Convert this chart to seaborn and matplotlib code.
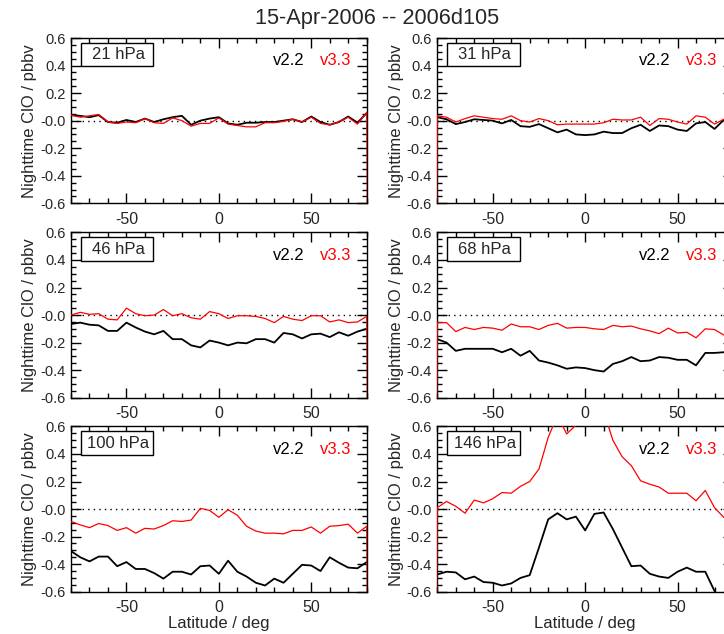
import numpy as np
import pandas as pd
import matplotlib
matplotlib.use("Agg")
import matplotlib.pyplot as plt
from matplotlib.ticker import MultipleLocator, FixedLocator
from matplotlib.patches import Rectangle
import seaborn as sns

# ---------------- data ----------------
title = "15-Apr-2006 -- 2006d105"
lat = [-80, -75, -70, -65, -60, -55, -50, -45, -40, -35, -30, -25, -20, -15, -10, -5,
       0, 5, 10, 15, 20, 25, 30, 35, 40, 45, 50, 55, 60, 65, 70, 75, 80]
fill_value = -9.99   # missing-value flag that v3.3 carries at the edge latitude
fill_lat_left = 85
fill_lat_right = -85

levels = ["21 hPa", "31 hPa", "46 hPa", "68 hPa", "100 hPa", "146 hPa"]

v22_21 = [0.04, 0.035, 0.025, 0.04, -0.01, -0.015, 0.005, -0.01, 0.015, -0.01, 0.01, 0.025,
          0.035, -0.03, 0.0, 0.015, 0.025, -0.02, -0.03, -0.015, -0.015, -0.01, -0.01, 0.0,
          0.01, -0.01, 0.03, -0.01, -0.03, -0.01, 0.03, -0.015, 0.055]
v33_21 = [0.04, 0.025, 0.035, 0.045, -0.01, -0.02, -0.01, -0.015, 0.015, -0.015, -0.02, 0.02,
          0.0, -0.04, -0.02, -0.02, 0.02, -0.025, -0.035, -0.045, -0.045, -0.015, -0.015, -0.005,
          0.01, -0.01, 0.025, -0.02, -0.03, -0.01, 0.025, -0.025, 0.06]

v22_31 = [0.025, 0.01, -0.025, -0.01, 0.01, 0.005, 0.0, -0.02, 0.005, -0.04, -0.045, -0.025,
          -0.055, -0.085, -0.065, -0.1, -0.105, -0.1, -0.08, -0.09, -0.09, -0.055, -0.03, -0.075,
          -0.035, -0.04, -0.065, -0.075, -0.02, -0.01, -0.06, 0.005, -0.02]
v33_31 = [0.035, 0.025, -0.01, 0.015, 0.035, 0.025, 0.015, 0.01, 0.035, 0.0, -0.01, 0.015,
          0.0, -0.03, -0.025, -0.025, -0.025, -0.025, -0.015, 0.01, 0.005, 0.005, 0.025, -0.035,
          0.015, 0.01, -0.01, -0.025, 0.035, 0.025, -0.025, 0.01, 0.0]

v22_46 = [-0.065, -0.055, -0.07, -0.075, -0.115, -0.115, -0.055, -0.09, -0.12, -0.14, -0.115, -0.175,
          -0.175, -0.22, -0.235, -0.185, -0.2, -0.22, -0.2, -0.205, -0.175, -0.175, -0.2, -0.13,
          -0.14, -0.17, -0.14, -0.135, -0.16, -0.125, -0.15, -0.12, -0.1]
v33_46 = [0.0, 0.02, 0.005, 0.01, -0.03, -0.035, 0.05, 0.01, -0.005, 0.0, 0.04, -0.005,
          0.01, -0.02, -0.03, 0.025, 0.01, -0.025, -0.005, -0.005, -0.01, -0.025, -0.055, -0.01,
          -0.03, -0.04, -0.005, -0.005, -0.05, -0.035, -0.055, -0.05, -0.01]

v22_68 = [-0.175, -0.2, -0.26, -0.245, -0.245, -0.245, -0.245, -0.27, -0.245, -0.295, -0.26, -0.33,
          -0.345, -0.365, -0.39, -0.38, -0.385, -0.4, -0.41, -0.355, -0.335, -0.305, -0.335, -0.33,
          -0.305, -0.31, -0.325, -0.325, -0.365, -0.275, -0.275, -0.27, -0.27]
v33_68 = [-0.055, -0.055, -0.12, -0.09, -0.105, -0.09, -0.095, -0.11, -0.065, -0.085, -0.085, -0.105,
          -0.075, -0.06, -0.095, -0.09, -0.09, -0.1, -0.105, -0.075, -0.085, -0.08, -0.1, -0.115,
          -0.135, -0.095, -0.13, -0.125, -0.165, -0.1, -0.105, -0.145, -0.14]

v22_100 = [-0.305, -0.35, -0.38, -0.345, -0.345, -0.415, -0.385, -0.435, -0.435, -0.465, -0.505, -0.455,
           -0.455, -0.475, -0.415, -0.41, -0.47, -0.375, -0.455, -0.49, -0.535, -0.555, -0.505, -0.535,
           -0.47, -0.405, -0.41, -0.45, -0.35, -0.39, -0.425, -0.43, -0.385]
v33_100 = [-0.09, -0.115, -0.135, -0.105, -0.12, -0.155, -0.135, -0.175, -0.14, -0.145, -0.12, -0.085,
           -0.09, -0.08, 0.005, -0.01, -0.06, -0.005, -0.045, -0.125, -0.16, -0.175, -0.175, -0.18,
           -0.155, -0.155, -0.13, -0.175, -0.125, -0.12, -0.11, -0.175, -0.125]

v22_146 = [-0.475, -0.455, -0.46, -0.51, -0.49, -0.53, -0.535, -0.555, -0.54, -0.5, -0.48, -0.28,
           -0.075, -0.03, -0.075, -0.055, -0.155, -0.035, -0.025, -0.145, -0.28, -0.415, -0.41, -0.47,
           -0.49, -0.5, -0.455, -0.425, -0.455, -0.455, -0.595, -0.7, -0.7]
v33_146 = [0.01, 0.055, 0.02, -0.03, 0.065, 0.045, 0.075, 0.12, 0.115, 0.165, 0.2, 0.29,
           0.52, 0.68, 0.545, 0.61, 0.72, 0.72, 0.71, 0.5, 0.38, 0.315, 0.205, 0.18,
           0.16, 0.115, 0.115, 0.115, 0.06, 0.135, 0.01, -0.06, -0.1]

v22_series = [v22_21, v22_31, v22_46, v22_68, v22_100, v22_146]
v33_series = [v33_21, v33_31, v33_46, v33_68, v33_100, v33_146]

ytick_vals = [-0.6, -0.4, -0.2, 0.0, 0.2, 0.4, 0.6]
ytick_labels = ["-0.6", "-0.4", "-0.2", "-0.0", "0.2", "0.4", "0.6"]
xtick_vals = [-50, 0, 50]
xtick_labels = ["-50", "0", "50"]
ylabel = "Nighttime ClO / pbbv"
xlabel = "Latitude / deg"
name_old = "v2.2"
name_new = "v3.3"

# ---------------- style ----------------
sns.set_style("ticks")
plt.rcParams["font.family"] = ["Liberation Sans", "DejaVu Sans"]

W, H = 724, 634
fig = plt.figure(figsize=(W / 100, H / 100), dpi=100)

ax_w = 295.7 / W
ax_h = 165.3 / H
lefts = [71.0 / W, 437.3 / W]
bottoms = [1 - 203.3 / H, 1 - 397.7 / H, 1 - 591.7 / H]

for k in range(6):
    row, col = divmod(k, 2)
    ax = fig.add_axes([lefts[col], bottoms[row], ax_w, ax_h])

    if col == 0:
        red_lat = lat + [fill_lat_left]
        red_val = v33_series[k] + [fill_value]
    else:
        red_lat = [fill_lat_right] + lat
        red_val = [fill_value] + v33_series[k]

    df_old = pd.DataFrame({"lat": lat, "val": v22_series[k]})
    df_new = pd.DataFrame({"lat": red_lat, "val": red_val})

    ax.axhline(0.0, color="black", lw=1.0, ls=(0, (1, 3)), zorder=1)
    sns.lineplot(data=df_old, x="lat", y="val", ax=ax, color="black", lw=1.3,
                 sort=False, estimator=None, zorder=3)
    sns.lineplot(data=df_new, x="lat", y="val", ax=ax, color="#ff0000", lw=0.9,
                 sort=False, estimator=None, zorder=4)

    ax.set_xlim(-80, 80)
    ax.set_ylim(-0.6, 0.6)
    ax.xaxis.set_major_locator(FixedLocator(xtick_vals))
    ax.set_xticklabels(xtick_labels)
    ax.xaxis.set_minor_locator(MultipleLocator(10))
    ax.yaxis.set_major_locator(FixedLocator(ytick_vals))
    ax.set_yticklabels(ytick_labels)
    ax.yaxis.set_minor_locator(MultipleLocator(0.05))
    ax.tick_params(which="both", direction="in", top=True, right=True,
                   color="black", width=1.0)
    ax.tick_params(which="major", length=7)
    ax.tick_params(which="minor", length=3.5)
    ax.tick_params(axis="x", which="major", labelsize=11.5, pad=6)
    ax.tick_params(axis="y", which="major", labelsize=10.5, pad=4)
    for sp in ax.spines.values():
        sp.set_linewidth(1.0)
        sp.set_color("black")

    ax.set_ylabel(ylabel, fontsize=12, labelpad=2)
    if row == 2:
        ax.set_xlabel(xlabel, fontsize=12, labelpad=1)
    else:
        ax.set_xlabel("")

    ax.add_patch(Rectangle((0.033, 0.83), 0.245, 0.142, transform=ax.transAxes,
                           fc="white", ec="black", lw=1.0, zorder=5, clip_on=False))
    ax.text(0.16, 0.899, levels[k], transform=ax.transAxes, ha="center", va="center",
            fontsize=12, zorder=6)
    ax.text(0.683, 0.863, name_old, transform=ax.transAxes, ha="left", va="center",
            fontsize=12, color="black", zorder=6)
    ax.text(0.842, 0.863, name_new, transform=ax.transAxes, ha="left", va="center",
            fontsize=12, color="#ff0000", zorder=6)

fig.text(377.5 / W, 1 - 18.5 / H, title, ha="center", va="center", fontsize=15.7)

fig.savefig("out.png", dpi=100)
